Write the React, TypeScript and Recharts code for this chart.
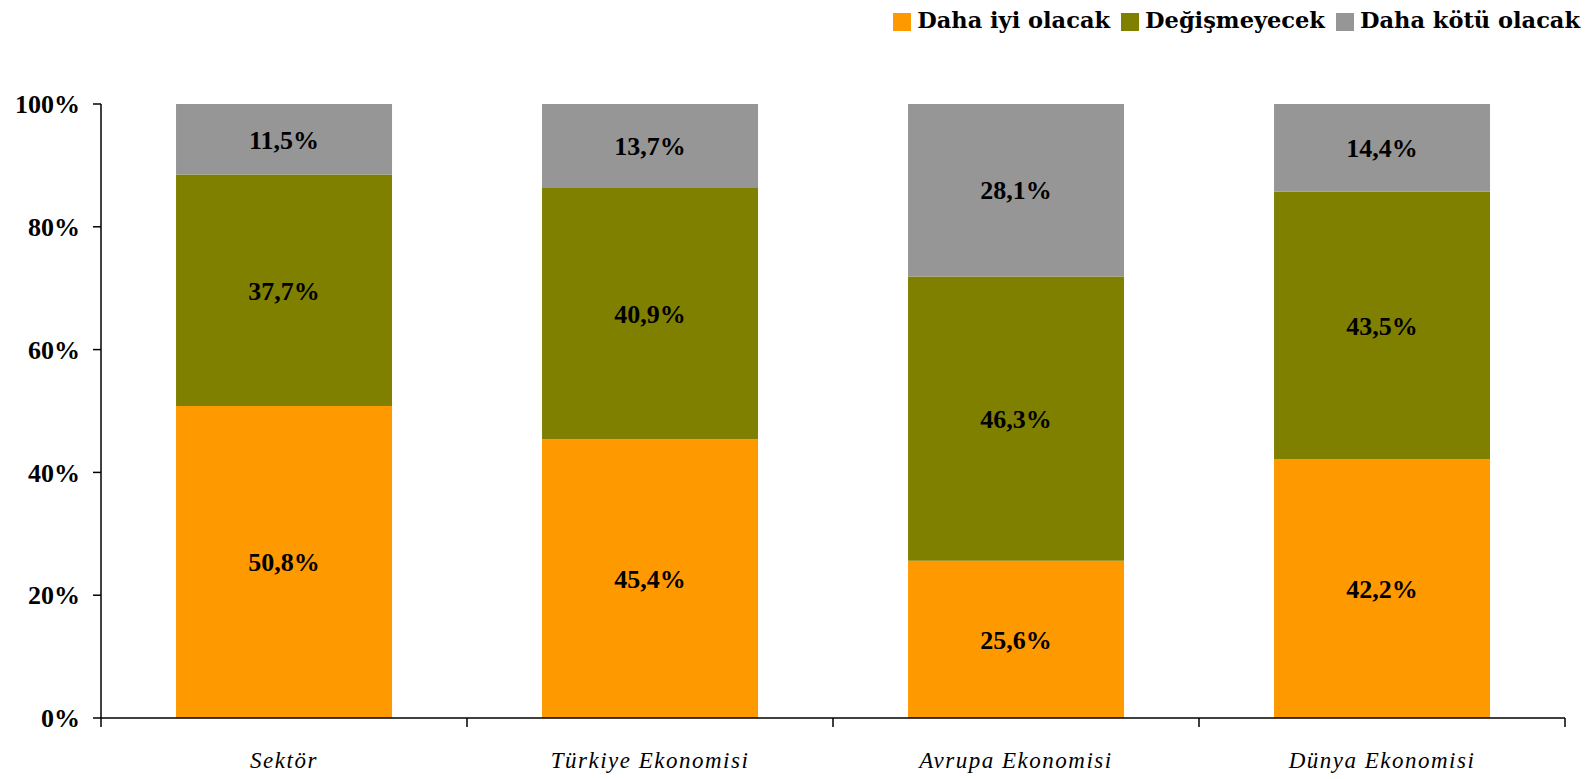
import React from 'react';
import { BarChart, Bar, XAxis, YAxis, Legend, LabelList } from 'recharts';

const categories = ['Sektör', 'Türkiye Ekonomisi', 'Avrupa Ekonomisi', 'Dünya Ekonomisi'];
const betterValues = [50.8, 45.4, 25.6, 42.2];
const sameValues = [37.7, 40.9, 46.3, 43.5];
const worseValues = [11.5, 13.7, 28.1, 14.4];
const seriesNames = ['Daha iyi olacak', 'Değişmeyecek', 'Daha kötü olacak'];
const seriesKeys = ['better', 'same', 'worse'];
const seriesColors = ['#FF9900', '#808000', '#969696'];
const yTicks = [0, 20, 40, 60, 80, 100];

const data = categories.map((name, i) => ({
  name,
  better: betterValues[i],
  same: sameValues[i],
  worse: worseValues[i],
}));

const CHART_W = 1572;
const CHART_H = 771;
const LEGEND_H = 30;
const MARGIN = { top: 96 - LEGEND_H, right: 15, bottom: 0, left: 0 };
const Y_AXIS_W = 93;
const X_AXIS_H = 61;
const PLOT_W = CHART_W - MARGIN.left - MARGIN.right - Y_AXIS_W;
const PLOT_BOTTOM = CHART_H - MARGIN.bottom - X_AXIS_H;
const BAND = PLOT_W / categories.length;

const NUM_FONT = '"Liberation Serif", "Times New Roman", serif';
const LEGEND_FONT = '"DejaVu Serif", serif';

const fmt = (v: any) => `${Number(v).toFixed(1).replace('.', ',')}%`;

const XTick = (props: any) => {
  const { x, payload, index } = props;
  const half = BAND / 2;
  const y = PLOT_BOTTOM;
  return (
    <g>
      {index === 0 && (
        <line x1={x - half} y1={y} x2={x - half} y2={y + 9} stroke="#000" strokeWidth={1.5} />
      )}
      <line x1={x + half} y1={y} x2={x + half} y2={y + 9} stroke="#000" strokeWidth={1.5} />
      <text
        x={x}
        y={y + 50}
        textAnchor="middle"
        fontFamily={NUM_FONT}
        fontStyle="italic"
        fontSize={23}
        letterSpacing={1.5}
        fill="#000"
      >
        {payload.value}
      </text>
    </g>
  );
};

const renderLegend = () => (
  <div
    style={{
      height: LEGEND_H,
      display: 'flex',
      alignItems: 'flex-start',
      justifyContent: 'flex-end',
      fontFamily: LEGEND_FONT,
      fontWeight: 'bold',
      fontSize: 22.5,
      color: '#000',
      whiteSpace: 'nowrap',
    }}
  >
    {seriesNames.map((n, i) => (
      <div
        key={n}
        style={{
          display: 'flex',
          alignItems: 'center',
          marginLeft: i === 0 ? 0 : 11,
          lineHeight: '25px',
        }}
      >
        <span
          style={{
            display: 'inline-block',
            width: 18,
            height: 18,
            background: seriesColors[i],
            marginRight: 6,
            marginTop: 2,
          }}
        />
        <span>{n}</span>
      </div>
    ))}
  </div>
);

export default function App() {
  return (
    <div style={{ position: 'absolute', left: 8, top: 8, width: CHART_W, height: CHART_H, background: '#fff' }}>
      <BarChart
        width={CHART_W}
        height={CHART_H}
        data={data}
        margin={MARGIN}
        barCategoryGap="20.5%"
      >
        <Legend
          verticalAlign="top"
          align="right"
          content={renderLegend}
          wrapperStyle={{ top: 0, right: 0, left: 'auto', width: 'auto' }}
        />
        <XAxis
          dataKey="name"
          height={X_AXIS_H}
          tickLine={false}
          axisLine={{ stroke: '#000', strokeWidth: 1.5 }}
          tick={<XTick />}
          interval={0}
        />
        <YAxis
          width={Y_AXIS_W}
          domain={[0, 100]}
          ticks={yTicks}
          allowDataOverflow
          tickFormatter={(v: number) => `${v}%`}
          tickSize={8}
          tickMargin={13}
          axisLine={{ stroke: '#000', strokeWidth: 1.5 }}
          tickLine={{ stroke: '#000', strokeWidth: 1.5 }}
          tick={{ fontFamily: NUM_FONT, fontWeight: 'bold', fontSize: 26, fill: '#000' }}
        />
        {seriesKeys.map((k, i) => (
          <Bar
            key={k}
            dataKey={k}
            name={seriesNames[i]}
            stackId="a"
            fill={seriesColors[i]}
            isAnimationActive={false}
          >
            <LabelList
              dataKey={k}
              position="center"
              formatter={fmt}
              style={{ fontFamily: NUM_FONT, fontWeight: 'bold', fontSize: 26, fill: '#000' }}
            />
          </Bar>
        ))}
      </BarChart>
    </div>
  );
}
